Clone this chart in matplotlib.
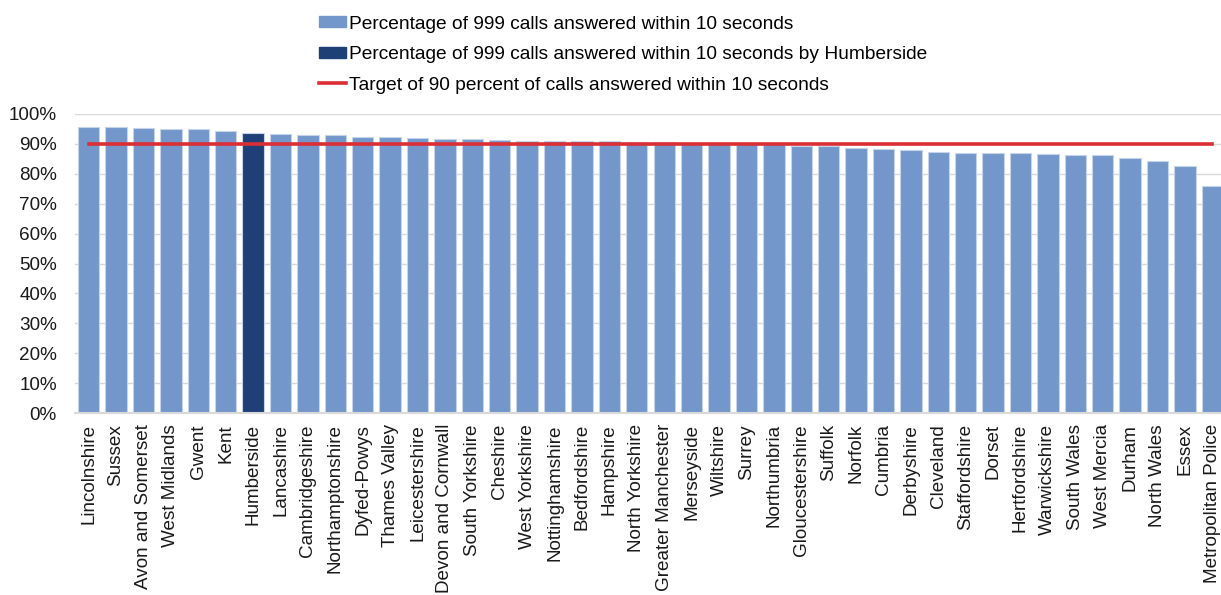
import matplotlib.pyplot as plt
from matplotlib.patches import Patch
from matplotlib.lines import Line2D
from matplotlib.ticker import PercentFormatter

plt.rcParams['font.family'] = ['Liberation Sans', 'DejaVu Sans']

forces = ["Lincolnshire", "Sussex", "Avon and Somerset", "West Midlands", "Gwent", "Kent",
          "Humberside", "Lancashire", "Cambridgeshire", "Northamptonshire", "Dyfed-Powys",
          "Thames Valley", "Leicestershire", "Devon and Cornwall", "South Yorkshire", "Cheshire",
          "West Yorkshire", "Nottinghamshire", "Bedfordshire", "Hampshire", "North Yorkshire",
          "Greater Manchester", "Merseyside", "Wiltshire", "Surrey", "Northumbria",
          "Gloucestershire", "Suffolk", "Norfolk", "Cumbria", "Derbyshire", "Cleveland",
          "Staffordshire", "Dorset", "Hertfordshire", "Warwickshire", "South Wales",
          "West Mercia", "Durham", "North Wales", "Essex", "Metropolitan Police"]
pct_answered = [95.5, 95.5, 95.3, 95.0, 95.0, 94.2, 93.7, 93.3, 93.1, 93.0, 92.4,
                92.3, 91.9, 91.8, 91.6, 91.4, 91.1, 91.0, 91.0, 91.0, 90.8,
                90.8, 90.2, 90.0, 89.9, 89.8, 89.3, 89.3, 88.6, 88.2, 87.9, 87.4,
                87.0, 86.9, 86.8, 86.6, 86.3, 86.2, 85.4, 84.4, 82.5, 76.0]
target = 90
highlight = "Humberside"

light = "#7397CB"
dark = "#1F3F77"
red = "#DC2F35"

fig = plt.figure(figsize=(12.21, 5.95), dpi=100)
ax = fig.add_axes([75 / 1221, 1 - 413 / 595, 1151 / 1221, 299 / 595])

colors = [dark if f == highlight else light for f in forces]
x = range(len(forces))
ax.bar(x, [v / 100 for v in pct_answered], width=0.78, color=colors,
       edgecolor="#C6D4EA", linewidth=0.8, zorder=2)
ax.plot([0, len(forces) - 1], [target / 100] * 2, color=red, lw=2.6, zorder=3)

ax.set_xlim(-0.5, len(forces) - 0.5)
ax.set_ylim(0, 1)
ax.set_yticks([i / 10 for i in range(11)])
ax.yaxis.set_major_formatter(PercentFormatter(1, decimals=0))
ax.set_xticks(list(x))
ax.set_xticklabels(forces, rotation=90, fontsize=13.6, color="#1a1a1a")
ax.tick_params(axis="y", labelsize=13.6, length=0, pad=13, labelcolor="#1a1a1a")
ax.tick_params(axis="x", length=0, pad=8)
ax.grid(axis="y", color="#D9D9D9", lw=1, zorder=0)
for s in ["top", "right", "left"]:
    ax.spines[s].set_visible(False)
ax.spines["bottom"].set_color("#D9D9D9")
ax.spines["bottom"].set_linewidth(1.5)

handles = [Patch(color=light), Patch(color=dark), Line2D([], [], color=red, lw=2.6)]
labels = ["Percentage of 999 calls answered within 10 seconds",
          "Percentage of 999 calls answered within 10 seconds by Humberside",
          "Target of 90 percent of calls answered within 10 seconds"]
fig.legend(handles, labels, loc="upper left", bbox_to_anchor=(311 / 1221, 1 - 8 / 595),
           frameon=False, fontsize=13.8, handlelength=1.45, handleheight=0.52,
           handletextpad=0.15, labelspacing=0.7, borderaxespad=0)

plt.savefig("out.png", dpi=100)
